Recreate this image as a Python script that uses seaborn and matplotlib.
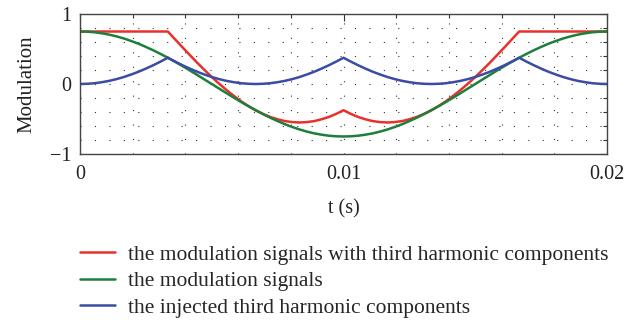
import numpy as np
import pandas as pd
import seaborn as sns
import matplotlib.pyplot as plt
from matplotlib.ticker import MultipleLocator, FixedLocator

red_vals = [0.750, 0.750, 0.750, 0.750, 0.750, 0.750, 0.750, 0.750, 0.750, 0.750, 0.750, 0.750, 0.750,
            0.637, 0.525, 0.414, 0.305, 0.201, 0.100, 0.005, -0.085, -0.168, -0.246, -0.314, -0.375,
            -0.427, -0.471, -0.504, -0.530, -0.544, -0.550, -0.544, -0.530, -0.504, -0.471, -0.427, -0.375,
            -0.427, -0.471, -0.504, -0.530, -0.544, -0.550, -0.544, -0.530, -0.504, -0.471, -0.427, -0.375,
            -0.314, -0.246, -0.168, -0.085, 0.005, 0.100, 0.201, 0.305, 0.414, 0.525, 0.637,
            0.750, 0.750, 0.750, 0.750, 0.750, 0.750, 0.750, 0.750, 0.750, 0.750, 0.750, 0.750, 0.750]
green_vals = [0.750, 0.747, 0.739, 0.724, 0.705, 0.680, 0.650, 0.614, 0.575, 0.530, 0.482, 0.430, 0.375,
              0.317, 0.257, 0.194, 0.130, 0.065, 0.000, -0.065, -0.130, -0.194, -0.257, -0.317, -0.375,
              -0.430, -0.482, -0.530, -0.575, -0.614, -0.650, -0.680, -0.705, -0.724, -0.739, -0.747, -0.750,
              -0.747, -0.739, -0.724, -0.705, -0.680, -0.650, -0.614, -0.575, -0.530, -0.482, -0.430, -0.375,
              -0.317, -0.257, -0.194, -0.130, -0.065, 0.000, 0.065, 0.130, 0.194, 0.257, 0.317,
              0.375, 0.430, 0.482, 0.530, 0.575, 0.614, 0.650, 0.680, 0.705, 0.724, 0.739, 0.747, 0.750]
blue_vals = [0.000, 0.003, 0.011, 0.026, 0.045, 0.070, 0.100, 0.136, 0.175, 0.220, 0.268, 0.320, 0.375,
             0.320, 0.268, 0.220, 0.175, 0.136, 0.100, 0.070, 0.045, 0.026, 0.011, 0.003, 0.000,
             0.003, 0.011, 0.026, 0.045, 0.070, 0.100, 0.136, 0.175, 0.220, 0.268, 0.320, 0.375,
             0.320, 0.268, 0.220, 0.175, 0.136, 0.100, 0.070, 0.045, 0.026, 0.011, 0.003, 0.000,
             0.003, 0.011, 0.026, 0.045, 0.070, 0.100, 0.136, 0.175, 0.220, 0.268, 0.320,
             0.375, 0.320, 0.268, 0.220, 0.175, 0.136, 0.100, 0.070, 0.045, 0.026, 0.011, 0.003, 0.000]
time_s = np.linspace(0, 0.02, len(green_vals))

labels = ["the modulation signals with third harmonic components",
          "the modulation signals",
          "the injected third harmonic components"]
colors = ["#E8312B", "#1E7F3A", "#3A4CA3"]

df = pd.concat([
    pd.DataFrame({"t": time_s, "v": red_vals, "series": labels[0]}),
    pd.DataFrame({"t": time_s, "v": green_vals, "series": labels[1]}),
    pd.DataFrame({"t": time_s, "v": blue_vals, "series": labels[2]}),
])

sns.set_theme(style="white")
plt.rcParams['font.family'] = ['Liberation Serif', 'DejaVu Serif']

fig = plt.figure(figsize=(6.43, 3.2), dpi=100)
ax = fig.add_axes([80/643, 1 - 154/320, 527/643, 140/320])

sns.lineplot(data=df, x="t", y="v", hue="series", hue_order=labels,
             palette=dict(zip(labels, colors)), linewidth=1.8, ax=ax, legend=False,
             sort=False, estimator=None)

ax.set_xlim(0, 0.02)
ax.set_ylim(-1, 1)
ax.xaxis.set_major_locator(FixedLocator([0, 0.01, 0.02]))
ax.set_xticklabels(["0", "0.01", "0.02"])
ax.xaxis.set_minor_locator(MultipleLocator(0.002))
ax.yaxis.set_major_locator(FixedLocator([-1, 0, 1]))
ax.set_yticklabels(["\u22121", "0", "1"])
ax.yaxis.set_minor_locator(MultipleLocator(0.2))
ax.tick_params(which="both", direction="in", top=True, right=True, colors="#333333",
               labelcolor="#222222", labelsize=14.5)
ax.tick_params(axis="x", which="both", pad=8)
ax.tick_params(axis="y", which="both", pad=6)
ax.tick_params(which="major", length=5, width=0.8)
ax.tick_params(which="minor", length=3, width=0.8)
ax.grid(which="both", linestyle=(0, (1, 12)), color="#333333", linewidth=0.8)
for s in ax.spines.values():
    s.set_color("#444444")
    s.set_linewidth(1.0)

ax.set_xlabel("t (s)", fontsize=14.5, color="#222222", labelpad=11)
ax.set_ylabel("Modulation", fontsize=15, color="#222222", labelpad=10)

handles = [plt.Line2D([], [], color=c, linewidth=1.8) for c in colors]
fig.legend(handles, labels, loc="upper left", bbox_to_anchor=(71/643, 1 - 236/320),
           frameon=False, fontsize=15.5, handlelength=1.65, handletextpad=0.6,
           labelspacing=0.3, borderaxespad=0)

fig.savefig("out.png", dpi=100)
